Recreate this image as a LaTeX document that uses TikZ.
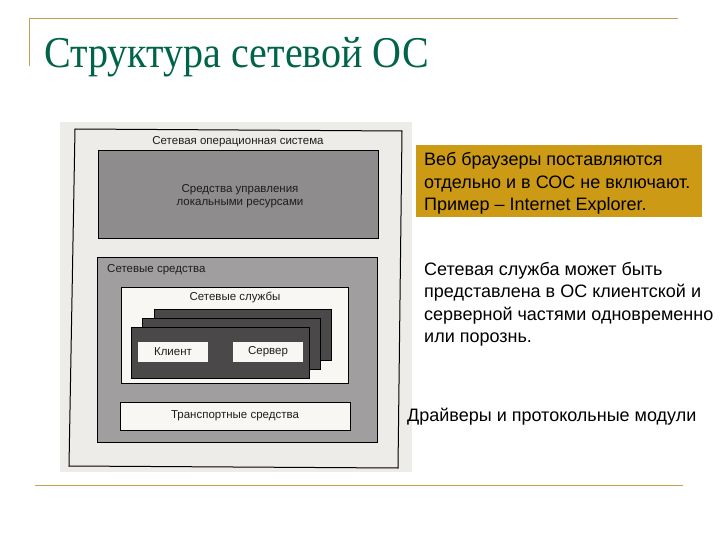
\documentclass[tikz,border=0pt]{standalone}
\usepackage{fontspec}
\setmainfont{Liberation Serif}
\newfontfamily\arialf{Liberation Sans}
\definecolor{goldline}{RGB}{196,160,80}
\definecolor{titlegreen}{RGB}{0,100,72}
\definecolor{goldbox}{RGB}{204,154,20}
\definecolor{scanbg}{RGB}{238,236,232}
\definecolor{darkgrey}{RGB}{142,140,140}
\definecolor{midgrey}{RGB}{160,158,158}
\definecolor{stackgrey}{RGB}{74,72,72}
\definecolor{paper}{RGB}{248,247,244}
\definecolor{inkgrey}{RGB}{30,30,30}
\tikzset{
  sbox/.style={draw=black, line width=0.8pt, inner sep=0pt, outer sep=0pt},
  slabel/.style={font=\arialf\fontsize{11.5}{13}\selectfont, text=inkgrey, inner sep=0pt, align=center},
  rtext/.style={font=\arialf\fontsize{18}{22.5}\selectfont, text=black, inner sep=0pt, align=left, anchor=base west}
}
\begin{document}
\begin{tikzpicture}[x=1pt,y=-1pt]
\useasboundingbox (0,0) rectangle (720,540);
\fill[white] (0,0) rectangle (720,540);
% decorative lines
\draw[goldline, line width=1.5pt] (29.5,66) -- (29.5,18.3) -- (678,18.3);
\draw[goldline, line width=1.5pt] (35,485.5) -- (683,485.5);
% title
\node[anchor=base west, inner sep=0pt, text=titlegreen, font=\fontsize{44}{48}\selectfont] (title) at (44,68) {\scalebox{0.91}[1]{Структура сетевой ОС}};
% scan background
\fill[scanbg] (60,122) rectangle (412,472);
\draw[black, line width=1pt] (75,129) -- (402,131) -- (398,468) -- (69,466) -- cycle;
\node[slabel] (nos) at (238,142) {Сетевая операционная система};
\node[sbox, fill=darkgrey, minimum width=280pt, minimum height=88pt] (local) at (238,194) {};
\node[slabel] (localt) at (240,196) {Средства управления\\локальными ресурсами};
\node[sbox, fill=midgrey, minimum width=280pt, minimum height=185pt] (netsrc) at (237,349.5) {};
\node[slabel, anchor=west] (netsrct) at (107,270) {Сетевые средства};
\node[sbox, fill=paper, line width=0.6pt, minimum width=227pt, minimum height=96pt] (services) at (234.5,335) {};
\node[slabel] (servicest) at (235,297) {Сетевые службы};
\node[sbox, fill=stackgrey, minimum width=177pt, minimum height=51pt] (back) at (242.5,334.5) {};
\node[sbox, fill=stackgrey, minimum width=178pt, minimum height=51pt] (mid) at (231,343.5) {};
\node[sbox, fill=stackgrey, minimum width=178pt, minimum height=51pt] (front) at (220,352.5) {};
\node[sbox, fill=paper, draw=none, minimum width=70pt, minimum height=20pt, font=\arialf\fontsize{11.5}{13}\selectfont, text=inkgrey] (client) at (173,352) {Клиент};
\node[sbox, fill=paper, draw=none, minimum width=70pt, minimum height=20pt, font=\arialf\fontsize{11.5}{13}\selectfont, text=inkgrey] (server) at (268,352) {Сервер};
\node[sbox, fill=paper, line width=0.6pt, minimum width=230pt, minimum height=28pt, font=\arialf\fontsize{11.5}{13}\selectfont, text=inkgrey] (transport) at (235,416) {Транспортные средства};
% right-hand texts
\fill[goldbox] (416,145) rectangle (702,217);
\node[rtext] (browsers) at (424,211) {Веб браузеры поставляются\\отдельно и в СОС не включают.\\Пример – Internet Explorer.};
\node[rtext] (service) at (424,342.5) {Сетевая служба может быть\\представлена в ОС клиентской и\\серверной частями одновременно\\или порознь.};
\node[rtext] (drivers) at (407,421) {Драйверы и протокольные модули};
\end{tikzpicture}
\end{document}
